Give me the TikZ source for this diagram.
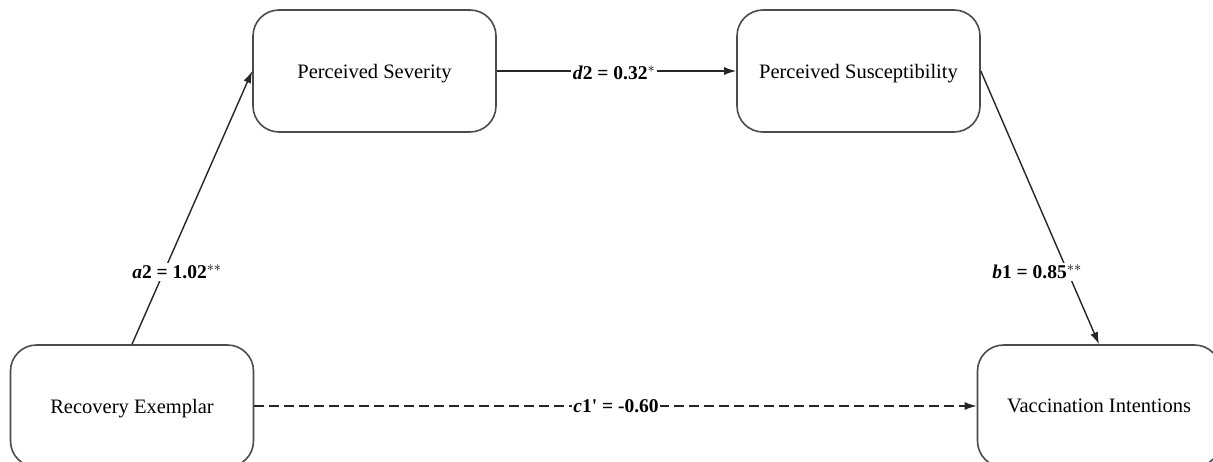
\documentclass[tikz,border=0pt]{standalone}
\usepackage{fontspec}
\setmainfont{Liberation Serif}
\newfontfamily\labfont{Liberation Serif}
\usetikzlibrary{arrows.meta}
\begin{document}
\begin{tikzpicture}[x=1pt,y=-1pt,
  varbox/.style={draw=black!70, line width=1.6pt, rounded corners=26pt, fill=white,
    minimum width=243pt, minimum height=122pt, inner sep=0pt, text depth=0pt,
    font=\fontsize{20.5}{24}\selectfont},
  path/.style={draw=black!85, line width=1.4pt, -{Latex[length=12pt,width=8pt]}},
  lab/.style={fill=white, inner sep=1.5pt, font=\labfont\fontsize{19.5}{22}\selectfont\bfseries}
]
\useasboundingbox (0,0) rectangle (1213,461);
\node[varbox] (sev) at (374.5,71) {Perceived Severity};
\node[varbox] (sus) at (858.5,71) {Perceived Susceptibility};
\node[varbox] (rec) at (132,406) {Recovery Exemplar};
\node[varbox] (vac) at (1099,406) {Vaccination Intentions};

\draw[path] (rec.north) -- (sev.west);
\draw[path] (sev.east) -- (sus.west);
\draw[path] (sus.east) -- (vac.north);
\draw[path, dash pattern=on 10pt off 5pt] (rec.east) -- (vac.west);

\node[lab] (la) at (177,272) {\textit{a}2 = 1.02$^{**}$};
\node[lab] (ld) at (614,73) {\textit{d}2 = 0.32$^{*}$};
\node[lab] (lb) at (1037,272) {\textit{b}1 = 0.85$^{**}$};
\node[lab] (lc) at (616,406) {\textit{c}1' = -0.60};
\end{tikzpicture}
\end{document}
